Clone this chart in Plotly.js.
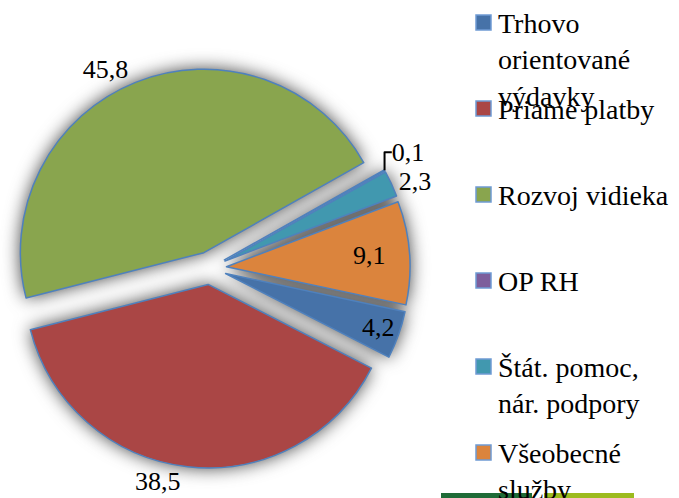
<!DOCTYPE html>
<html>
<head>
<meta charset="utf-8">
<script src="https://cdn.plot.ly/plotly-3.0.1.min.js"></script>
<style>
  html, body { margin: 0; padding: 0; background: #fff; }
  #chart { width: 679px; height: 498px; }
  #chart .modebar-container { display: none !important; }
  #chart text { font-family: "Liberation Serif", "Times New Roman", serif !important; }
  #chart .pielayer .trace:first-child { filter: blur(9px); }
</style>
</head>
<body>
<div id="chart"></div>
<script>
"use strict"

// shares of spending, percent
let labels = ['Trhovo orientované výdavky', 'Priame platby', 'Rozvoj vidieka', 'OP RH', 'Štát. pomoc, nár. podpory', 'Všeobecné služby'];
let legendNames = ['Trhovo<br>orientované<br>výdavky', 'Priame platby', 'Rozvoj vidieka', 'OP RH', 'Štát. pomoc,<br>nár. podpory', 'Všeobecné<br>služby'];
let values = [4.2, 38.5, 45.8, 0.1, 2.3, 9.1];
let colors = ['#4672A8', '#AA4645', '#89A54E', '#7D5E9C', '#4198AF', '#DB843D'];
let labelPos = ['inside', 'outside', 'outside', 'outside', 'outside', 'inside'];

let W = 679, H = 498;
let fontName = 'Liberation Serif';
let pieDomain = {x: [10/W, 410/W], y: [1 - 468/H, 1 - 68/H]};

let pie = {
	type: 'pie',
	values: values,
	labels: labels,
	sort: false,
	direction: 'clockwise',
	rotation: 102,
	pull: 0.09,
	domain: pieDomain,
	marker: {colors: colors, line: {color: '#4F81BD', width: 1.5}},
	texttemplate: '%{value}',
	textposition: labelPos,
	insidetextorientation: 'horizontal',
	textfont: {family: fontName, size: 26, color: '#000'},
	hoverinfo: 'label+value'
};

// same pie again underneath, blurred by css -> grey glow
let shadow = {
	type: 'pie',
	values: values,
	labels: labels,
	sort: false,
	direction: 'clockwise',
	rotation: 102,
	pull: 0.09,
	domain: pieDomain,
	marker: {colors: values.map(()=> '#3c3c3c'), line: {width: 0}},
	textinfo: 'none',
	hoverinfo: 'skip'
};

// legend rows, Excel style
let annotations = [],
	shapes = [];
let legX = 476, legTop = 15, legStep = 86, box = 15;
for(let i=0;i<legendNames.length;i++){
	let y0 = legTop + i*legStep;
	shapes.push({
		type: 'rect', xref: 'paper', yref: 'paper',
		x0: legX/W, x1: (legX+box)/W,
		y0: 1 - y0/H, y1: 1 - (y0+box)/H,
		fillcolor: colors[i],
		line: {color: '#6F9BD3', width: 1.5}
	});
	annotations.push({
		xref: 'paper', yref: 'paper',
		x: (legX+box+5)/W, y: 1 - (y0-9)/H,
		xanchor: 'left', yanchor: 'top', align: 'left',
		text: legendNames[i],
		showarrow: false,
		font: {family: fontName, size: 28, color: '#000'}
	});
}

// slide strips at the bottom edge
shapes.push({type: 'rect', xref: 'paper', yref: 'paper', x0: 441/W, x1: 532/W, y0: 0, y1: 5/H, fillcolor: '#1F6B37', line: {width: 0}});
shapes.push({type: 'rect', xref: 'paper', yref: 'paper', x0: 544/W, x1: 634/W, y0: 0, y1: 5/H, fillcolor: '#9CBB1E', line: {width: 0}});

let layout = {
	width: W,
	height: H,
	margin: {l: 0, r: 0, t: 0, b: 0},
	font: {family: fontName},
	separators: ', ',
	showlegend: false,
	uniformtext: {mode: 'show', minsize: 26},
	annotations: annotations,
	shapes: shapes
};

let gd = document.getElementById('chart');
Plotly.newPlot(gd, [shadow, pie], layout).then(()=> {
	let traces = gd.querySelectorAll('.pielayer .trace');
	if(traces.length > 1){
		traces[0].style.filter = 'blur(9px)';
	}
});
</script>
</body>
</html>
